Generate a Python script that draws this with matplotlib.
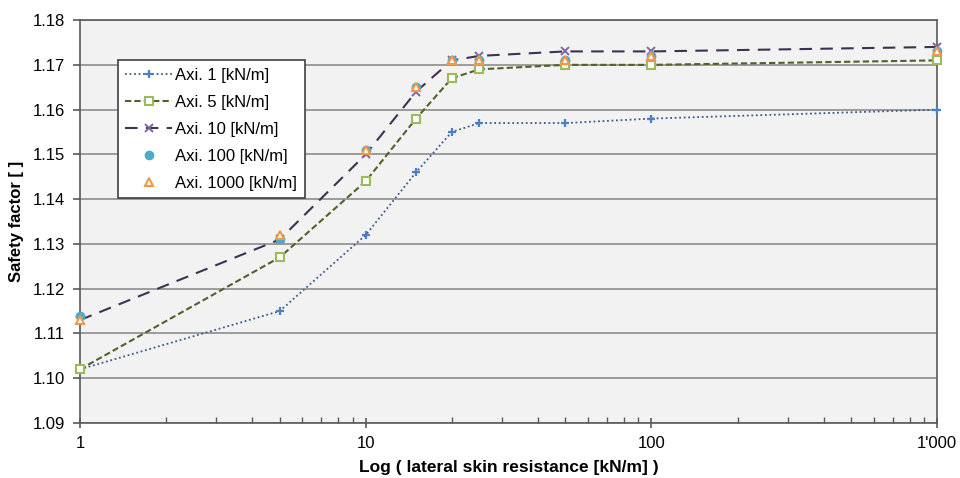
import numpy as np
import matplotlib.pyplot as plt
from matplotlib.ticker import FixedLocator, FixedFormatter, LogLocator, NullFormatter

plt.rcParams['font.family'] = ['Liberation Sans', 'DejaVu Sans']

# lateral skin resistance [kN/m]
x = [1, 5, 10, 15, 20, 25, 50, 100, 1000]

axi_1 = [1.102, 1.115, 1.132, 1.146, 1.155, 1.157, 1.157, 1.158, 1.160]
axi_5 = [1.102, 1.127, 1.144, 1.158, 1.167, 1.169, 1.170, 1.170, 1.171]
axi_10 = [1.113, 1.131, 1.150, 1.164, 1.171, 1.172, 1.173, 1.173, 1.174]
axi_100 = [1.114, 1.131, 1.151, 1.165, 1.171, 1.171, 1.171, 1.172, 1.173]
axi_1000 = [1.113, 1.132, 1.151, 1.165, 1.171, 1.171, 1.171, 1.172, 1.173]

fig = plt.figure(figsize=(9.6, 4.78), dpi=100)
ax = fig.add_axes([0.0833, 0.115, 0.893, 0.843])
ax.set_facecolor('#f2f2f2')

ax.plot(x, axi_1, linestyle=(0, (1, 1.5)), color='#3b5a8c', lw=1.3,
        marker='+', ms=6, mew=1.6, mec='#4a7fc9', label='Axi. 1 [kN/m]',
        zorder=3, clip_on=False)
ax.plot(x, axi_5, linestyle=(0, (3, 1.5)), color='#4f6228', lw=1.5,
        marker='s', ms=6, mfc='white', mec='#9bbb59', mew=1.5, label='Axi. 5 [kN/m]',
        zorder=3, clip_on=False)
ax.plot(x, axi_10, linestyle=(0, (6, 4)), color='#3f3151', lw=1.5,
        marker='x', ms=6, mec='#8064a2', mew=1.4, label='Axi. 10 [kN/m]',
        zorder=3, clip_on=False)
ax.plot(x, axi_100, linestyle='none', marker='o', ms=6, color='#4bacc6',
        label='Axi. 100 [kN/m]', zorder=4, clip_on=False)
ax.plot(x, axi_1000, linestyle='none', marker='^', ms=6, mfc='white', mec='#f79646',
        mew=1.5, label='Axi. 1000 [kN/m]', zorder=5, clip_on=False)

ax.set_xscale('log')
ax.set_xlim(1, 1000)
ax.set_ylim(1.09, 1.18)
ax.set_yticks(np.arange(1.09, 1.1801, 0.01))
ax.set_yticklabels([f'{v:.2f}' for v in np.arange(1.09, 1.1801, 0.01)])
ax.xaxis.set_major_locator(FixedLocator([1, 10, 100, 1000]))
ax.xaxis.set_major_formatter(FixedFormatter(['1', '10', '100', "1'000"]))
ax.xaxis.set_minor_locator(LogLocator(base=10, subs=np.arange(2, 10)))
ax.xaxis.set_minor_formatter(NullFormatter())

ax.grid(axis='y', color='#8c8c8c', lw=1.2, zorder=1)
ax.set_axisbelow(True)
for side in ['left', 'bottom', 'top', 'right']:
    ax.spines[side].set_color('#595959')
    ax.spines[side].set_linewidth(1.2)

ax.tick_params(axis='both', which='major', direction='inout', length=7,
               width=1.2, color='#595959', labelsize=12, pad=6)
ax.tick_params(axis='x', which='minor', direction='in', length=4, width=1.0, color='#595959')
ax.tick_params(axis='y', which='major', direction='out', length=5)

ax.set_xlabel('Log ( lateral skin resistance [kN/m] )', fontsize=12.5, fontweight='bold', labelpad=6)
ax.set_ylabel('Safety factor [ ]', fontsize=12, fontweight='bold', labelpad=6)

leg = ax.legend(loc='upper left', bbox_to_anchor=(0.044, 0.90), borderaxespad=0,
                fontsize=12, frameon=True, fancybox=False, framealpha=1,
                edgecolor='#404040', handlelength=2.8, handletextpad=0.2,
                labelspacing=0.72, borderpad=0.45)
leg.get_frame().set_linewidth(1.2)

fig.savefig('out.png', dpi=100)
